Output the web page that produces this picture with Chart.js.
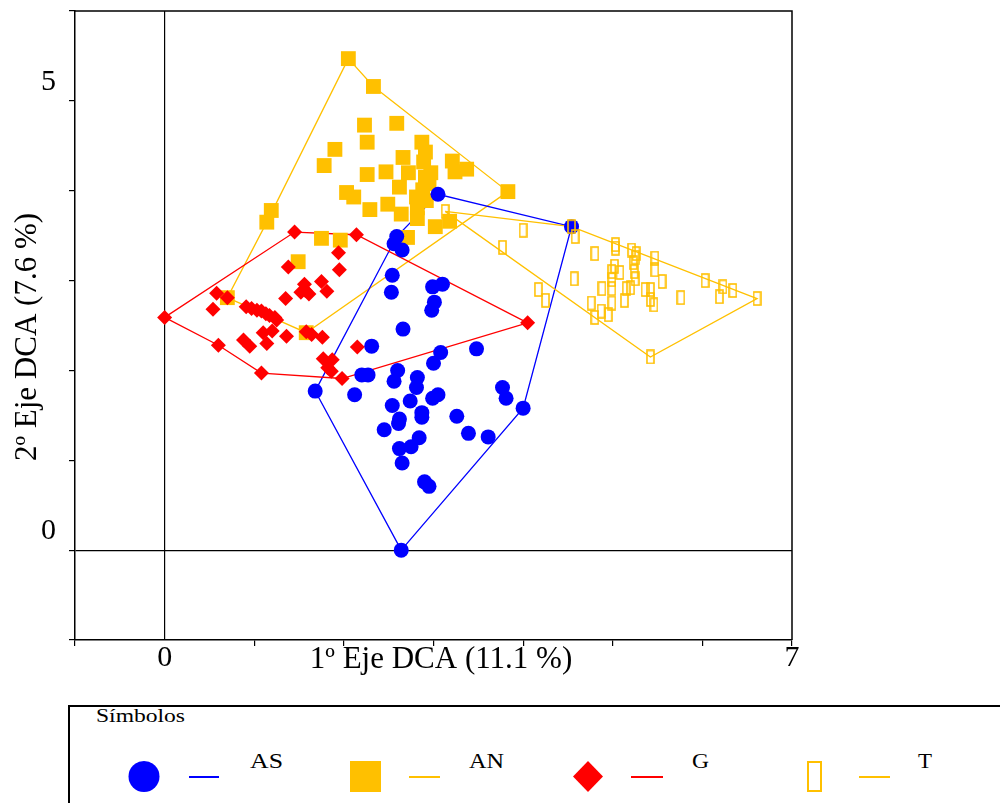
<!DOCTYPE html>
<html>
<head>
<meta charset="utf-8">
<script src="https://cdn.jsdelivr.net/npm/chart.js@4.4.1/dist/chart.umd.min.js"></script>
<style>
  html, body { margin: 0; padding: 0; background: #fff; overflow: hidden; }
  #wrap { position: absolute; left: 0; top: 0; width: 1000px; height: 700px; }
  #legend { position: absolute; left: 0; top: 700px; }
</style>
</head>
<body>
<div id="wrap"><canvas id="dcaChart" width="1000" height="700"></canvas></div>
<svg id="legend" width="1000" height="103" viewBox="0 700 1000 103" font-family="'Liberation Serif', 'Times New Roman', serif">
  <rect x="69" y="706" width="1000" height="200" fill="none" stroke="#000" stroke-width="2"/>
  <text x="96" y="722" font-size="19" textLength="89" lengthAdjust="spacingAndGlyphs">Símbolos</text>
  <ellipse cx="144" cy="776.5" rx="15.5" ry="15.5" fill="#0000ff"/>
  <line x1="189" y1="777" x2="219" y2="777" stroke="#0000ff" stroke-width="2"/>
  <text x="250" y="768" font-size="21" textLength="33" lengthAdjust="spacingAndGlyphs">AS</text>
  <rect x="350" y="761" width="31" height="31" fill="#ffc000"/>
  <line x1="409" y1="777" x2="440" y2="777" stroke="#ffc000" stroke-width="2"/>
  <text x="469" y="768" font-size="21" textLength="35" lengthAdjust="spacingAndGlyphs">AN</text>
  <polygon points="588,761 603,776.5 588,792 573,776.5" fill="#ff0000"/>
  <line x1="631" y1="777" x2="663" y2="777" stroke="#ff0000" stroke-width="2"/>
  <text x="692" y="768" font-size="21" textLength="17" lengthAdjust="spacingAndGlyphs">G</text>
  <rect x="808" y="762" width="13" height="29" fill="none" stroke="#ffc000" stroke-width="2"/>
  <line x1="859" y1="777" x2="890" y2="777" stroke="#ffc000" stroke-width="2"/>
  <text x="918" y="768" font-size="21" textLength="14" lengthAdjust="spacingAndGlyphs">T</text>
</svg>
<script>
// Group AS (blue circles)
const asX = [3.05, 4.54, 2.59, 2.56, 2.65, 2.54, 2.53, 2.99, 3.10, 3.01, 2.98, 2.66, 2.31, 3.08, 3.00, 3.48, 2.20, 2.27, 2.60, 2.56, 2.82, 2.81, 1.68, 2.12, 2.54, 2.74, 2.99, 3.05, 3.77, 3.81, 4.00, 2.62, 2.61, 2.87, 2.87, 2.45, 3.26, 3.39, 3.61, 2.84, 2.75, 2.62, 2.65, 2.90, 2.95, 2.64];
const asY = [3.96, 3.60, 3.49, 3.41, 3.34, 3.06, 2.87, 2.93, 2.96, 2.76, 2.67, 2.46, 2.27, 2.20, 2.08, 2.24, 1.95, 1.95, 2.00, 1.88, 1.92, 1.81, 1.77, 1.73, 1.61, 1.66, 1.69, 1.73, 1.81, 1.69, 1.58, 1.46, 1.41, 1.53, 1.48, 1.34, 1.49, 1.30, 1.26, 1.25, 1.15, 1.13, 0.97, 0.76, 0.71, 0.00];

// Group AN (filled squares)
const anX = [2.05, 2.33, 2.23, 2.59, 2.26, 2.87, 1.90, 2.91, 2.66, 1.78, 3.21, 2.89, 3.37, 2.26, 2.47, 2.72, 2.97, 3.24, 2.95, 2.62, 2.03, 2.11, 2.81, 2.92, 3.83, 2.29, 2.49, 2.64, 2.82, 2.82, 3.02, 3.18, 1.19, 1.14, 1.75, 1.96, 2.71, 1.49, 0.70, 1.58, 2.88, 2.91];
const anY = [5.47, 5.16, 4.73, 4.75, 4.54, 4.54, 4.46, 4.43, 4.37, 4.28, 4.33, 4.32, 4.24, 4.18, 4.21, 4.20, 4.20, 4.21, 4.08, 4.04, 3.98, 3.93, 3.93, 3.89, 3.99, 3.79, 3.85, 3.74, 3.81, 3.69, 3.60, 3.66, 3.78, 3.65, 3.47, 3.45, 3.48, 3.21, 2.81, 2.42, 4.01, 4.15];

// Group G (diamonds)
const gX = [0.00, 1.45, 2.14, 1.94, 1.38, 1.95, 1.75, 1.81, 1.56, 1.57, 1.61, 1.52, 1.35, 0.58, 0.70, 0.54, 0.91, 0.97, 1.03, 1.08, 1.13, 1.17, 1.23, 1.25, 1.20, 1.10, 1.14, 1.36, 1.58, 1.64, 1.76, 0.88, 0.95, 0.60, 1.08, 1.77, 1.87, 1.82, 1.86, 1.98, 2.15, 4.05];
const gY = [2.59, 3.54, 3.51, 3.31, 3.15, 3.12, 2.99, 2.88, 2.96, 2.89, 2.85, 2.87, 2.80, 2.86, 2.81, 2.68, 2.71, 2.69, 2.67, 2.66, 2.63, 2.61, 2.59, 2.56, 2.44, 2.42, 2.30, 2.38, 2.43, 2.40, 2.37, 2.34, 2.27, 2.28, 1.97, 2.13, 2.12, 2.03, 1.99, 1.91, 2.26, 2.53];

// Group T (open rectangles)
const tX = [3.13, 4.00, 4.54, 4.58, 3.77, 5.03, 4.80, 5.21, 5.26, 5.47, 5.47, 5.02, 4.99, 5.08, 5.23, 5.24, 5.25, 5.55, 4.99, 4.99, 4.88, 4.57, 5.15, 5.20, 5.36, 5.42, 5.42, 5.46, 5.13, 4.99, 4.76, 4.87, 4.95, 4.80, 5.76, 6.03, 6.23, 6.34, 6.19, 6.61, 5.42, 4.17, 4.25, 5.25, 5.03];
const tY = [3.77, 3.56, 3.60, 3.49, 3.37, 3.40, 3.30, 3.34, 3.30, 3.25, 3.12, 3.16, 3.10, 3.09, 3.20, 3.10, 3.02, 2.99, 3.01, 2.91, 2.91, 3.02, 2.91, 2.92, 2.90, 2.90, 2.79, 2.73, 2.78, 2.75, 2.75, 2.66, 2.62, 2.59, 2.81, 3.00, 2.93, 2.89, 2.82, 2.80, 2.15, 2.90, 2.78, 3.26, 3.36];

// Envelopes around each group
const asHullX = [2.64, 1.68, 2.59, 3.05, 4.54, 4.00, 2.64];
const asHullY = [0.00, 1.77, 3.49, 3.96, 3.60, 1.58, 0.00];
const anHullX = [2.05, 2.33, 3.83, 1.58, 0.70, 1.14, 2.05];
const anHullY = [5.47, 5.16, 3.99, 2.42, 2.81, 3.65, 5.47];
const gHullX = [0.00, 1.45, 2.14, 4.05, 1.98, 1.08, 0.60, 0.00];
const gHullY = [2.59, 3.54, 3.51, 2.53, 1.91, 1.97, 2.28, 2.59];
const tHullX = [3.13, 4.54, 6.61, 5.42, 3.13];
const tHullY = [3.77, 3.60, 2.80, 2.15, 3.77];

const xTickLabels = [0, 7];
const yTickLabels = [0, 5];
const xTitle = '1º Eje DCA (11.1 %)';
const yTitle = '2º Eje DCA (7.6 %)';

const BLUE = '#0000ff', YELLOW = '#ffc000', RED = '#ff0000';
const SERIF = "'Liberation Serif', 'Times New Roman', serif";

const pts = (xs, ys) => xs.map((x, i) => ({ x: x, y: ys[i] }));

// small open rectangle used as point style for group T
const openRect = document.createElement('canvas');
openRect.width = 9;
openRect.height = 15;
(function () {
    const c = openRect.getContext('2d');
    c.strokeStyle = YELLOW;
    c.lineWidth = 1.6;
    c.strokeRect(1, 1, 7, 13);
})();

function hull(xs, ys, color, order) {
    return {
        data: pts(xs, ys),
        showLine: true,
        borderColor: color,
        borderWidth: 1.3,
        pointRadius: 0,
        fill: false,
        tension: 0,
        order: order
    };
}

// frame on top/right and axis titles
const framePlugin = {
    id: 'frame',
    afterDraw(chart) {
        const { ctx, chartArea: a } = chart;
        ctx.save();
        ctx.strokeStyle = '#000';
        ctx.lineWidth = 1.5;
        ctx.beginPath();
        ctx.moveTo(a.left, a.top);
        ctx.lineTo(a.right, a.top);
        ctx.lineTo(a.right, a.bottom);
        ctx.stroke();

        ctx.fillStyle = '#000';
        ctx.font = '31px ' + SERIF;
        ctx.textAlign = 'center';
        ctx.textBaseline = 'middle';
        ctx.fillText(xTitle, 441, 660);
        ctx.translate(28, 337);
        ctx.rotate(-Math.PI / 2);
        ctx.fillText(yTitle, 0, 0);
        ctx.restore();
    }
};

const ctx = document.getElementById('dcaChart').getContext('2d');

new Chart(ctx, {
    type: 'scatter',
    data: {
        datasets: [
            { label: 'T', data: pts(tX, tY), pointStyle: openRect, pointRadius: 7, order: 1 },
            { label: 'G', data: pts(gX, gY), pointStyle: 'rectRot', pointRadius: 7.5, backgroundColor: RED, borderWidth: 0, order: 2 },
            { label: 'AS', data: pts(asX, asY), pointStyle: 'circle', pointRadius: 7.5, backgroundColor: BLUE, borderWidth: 0, order: 3 },
            { label: 'AN', data: pts(anX, anY), pointStyle: 'rect', pointRadius: 10.5, backgroundColor: YELLOW, borderWidth: 0, order: 4 },
            hull(tHullX, tHullY, YELLOW, 5),
            hull(gHullX, gHullY, RED, 6),
            hull(asHullX, asHullY, BLUE, 7),
            hull(anHullX, anHullY, YELLOW, 8)
        ]
    },
    options: {
        responsive: false,
        animation: false,
        layout: {
            autoPadding: false,
            padding: { left: 0, top: 11, right: 208, bottom: 0 }
        },
        plugins: {
            legend: { display: false },
            tooltip: { enabled: false }
        },
        scales: {
            x: {
                type: 'linear',
                min: -1,
                max: 7,
                afterFit(scale) {
                    scale.height = 60;
                    scale.paddingLeft = 0;
                    scale.paddingRight = 0;
                },
                ticks: {
                    stepSize: 1,
                    autoSkip: false,
                    maxRotation: 0,
                    padding: -6,
                    color: '#000',
                    font: { family: SERIF, size: 30 },
                    callback: v => xTickLabels.includes(v) ? String(v) : ''
                },
                grid: {
                    color: c => c.tick && c.tick.value === 0 ? '#000' : 'rgba(0,0,0,0)',
                    tickColor: c => c.tick && c.tick.value === 0 ? 'rgba(0,0,0,0)' : '#000',
                    lineWidth: 1.2,
                    tickLength: 6
                },
                border: { display: true, color: '#000', width: 1.5 }
            },
            y: {
                type: 'linear',
                min: -1,
                max: 6,
                afterFit(scale) {
                    scale.width = 75;
                    scale.paddingTop = 0;
                    scale.paddingBottom = 0;
                },
                ticks: {
                    stepSize: 1,
                    autoSkip: false,
                    padding: 13,
                    labelOffset: -19,
                    color: '#000',
                    font: { family: SERIF, size: 30 },
                    callback: v => yTickLabels.includes(v) ? String(v) : ''
                },
                grid: {
                    color: c => c.tick && c.tick.value === 0 ? '#000' : 'rgba(0,0,0,0)',
                    tickColor: '#000',
                    lineWidth: 1.2,
                    tickLength: 6
                },
                border: { display: true, color: '#000', width: 1.5 }
            }
        }
    },
    plugins: [framePlugin]
});
</script>
</body>
</html>
